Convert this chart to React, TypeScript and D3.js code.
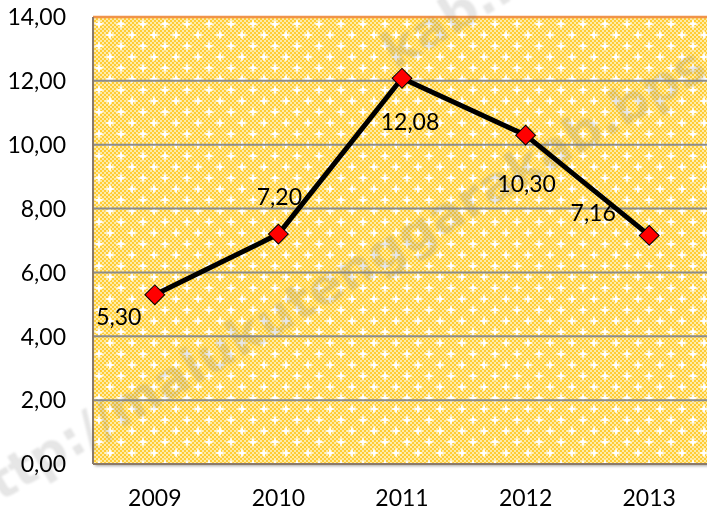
import * as d3 from "d3";
import React from "react";

const years = ["2009", "2010", "2011", "2012", "2013"];
const values = [5.3, 7.2, 12.08, 10.3, 7.16];
const yTicks = [0, 2, 4, 6, 8, 10, 12, 14];
// label placement relative to the point (dx, dy), hand-tuned like Excel's
const labelOffsets = [
  [-36, 30],
  [1, -29],
  [8, 52],
  [1, 57],
  [-56, -14],
];

const W = 707;
const H = 513;
const plot = { left: 93, top: 17, right: 711, bottom: 464 };

const fmt = (v: number) => v.toFixed(2).replace(".", ",");

export default function App() {
  const x = d3.scaleBand().domain(years).range([plot.left, plot.right]);
  const y = d3.scaleLinear().domain([0, 14]).range([plot.bottom, plot.top]);
  const cx = (yr: string) => (x(yr) || 0) + x.bandwidth() / 2;

  const line = d3
    .line<number>()
    .x((_v, i) => cx(years[i]))
    .y((v) => y(v))(values);

  const font = "Lato, 'Open Sans', sans-serif";
  const fs = 23;
  const star = "M0,-6 L1.2,-1.2 L6,0 L1.2,1.2 L0,6 L-1.2,1.2 L-6,0 L-1.2,-1.2 Z";

  return (
    <svg width={W} height={H} style={{ position: "absolute", left: 0, top: 0 }}>
      <defs>
        <pattern id="checks" width={4} height={4} patternUnits="userSpaceOnUse">
          <rect width={4} height={4} fill="#FFCC36" />
          <rect x={0} y={0} width={2} height={2} fill="#FFECA6" />
          <rect x={2} y={2} width={2} height={2} fill="#FFECA6" />
        </pattern>
        <pattern id="stars" width={22} height={22} patternUnits="userSpaceOnUse" x={plot.left} y={plot.top}>
          <path d={star} transform="translate(6,7)" fill="#ffffff" />
          <path d={star} transform="translate(17,18)" fill="#ffffff" />
        </pattern>
        <filter id="shadow" x="-5%" y="-5%" width="110%" height="110%">
          <feDropShadow dx={2} dy={2} stdDeviation={1.5} floodColor="#000" floodOpacity={0.35} />
        </filter>
        <filter id="soft">
          <feGaussianBlur stdDeviation={1.2} />
        </filter>
      </defs>
      <rect width={W} height={H} fill="#ffffff" />

      <g filter="url(#shadow)">
        <rect
          x={plot.left}
          y={plot.top}
          width={plot.right - plot.left}
          height={plot.bottom - plot.top}
          fill="url(#checks)"
        />
      </g>
      <rect
        x={plot.left}
        y={plot.top}
        width={plot.right - plot.left}
        height={plot.bottom - plot.top}
        fill="url(#stars)"
      />

      {yTicks.slice(1, -1).map((t) => (
        <line key={t} x1={plot.left} x2={plot.right} y1={y(t)} y2={y(t)} stroke="#8c8c8c" strokeWidth={2} />
      ))}
      <line x1={plot.left} x2={plot.right} y1={plot.top} y2={plot.top} stroke="#F0934A" strokeWidth={2.5} />
      <line x1={plot.left} x2={plot.left} y1={plot.top} y2={plot.bottom} stroke="#8a7a6a" strokeWidth={2} />
      <line x1={plot.left} x2={plot.right} y1={plot.bottom} y2={plot.bottom} stroke="#8a7a6a" strokeWidth={2} />

      {/* watermark */}
      <g fill="#808080" opacity={0.2} fontFamily="'DejaVu Sans', sans-serif" fontWeight="bold" fontSize={50} filter="url(#soft)">
        <text transform="translate(-30,520) rotate(-31)">http://malukutenggarakab.bps.go.id</text>
        <text transform="translate(395,70) rotate(-31)">kab.bps.go.id</text>
      </g>

      <path d={line || ""} fill="none" stroke="#000" strokeWidth={5} strokeLinejoin="round" />
      {values.map((v, i) => (
        <rect
          key={years[i]}
          x={-7}
          y={-7}
          width={14}
          height={14}
          fill="#FF0000"
          stroke="#000"
          strokeWidth={1}
          transform={`translate(${cx(years[i])},${y(v)}) rotate(45)`}
        />
      ))}
      {values.map((v, i) => (
        <text
          key={"l" + years[i]}
          x={cx(years[i]) + labelOffsets[i][0]}
          y={y(v) + labelOffsets[i][1]}
          textAnchor="middle"
          fontFamily={font}
          fontSize={fs}
          fill="#000"
        >
          {fmt(v)}
        </text>
      ))}

      {yTicks.map((t) => (
        <text
          key={"t" + t}
          x={66}
          y={y(t)}
          dy="0.36em"
          textAnchor="end"
          fontFamily={font}
          fontSize={fs}
          fill="#000"
        >
          {fmt(t)}
        </text>
      ))}
      {years.map((yr) => (
        <text
          key={"x" + yr}
          x={cx(yr)}
          y={506}
          textAnchor="middle"
          fontFamily={font}
          fontSize={fs}
          fill="#000"
        >
          {yr}
        </text>
      ))}
    </svg>
  );
}
